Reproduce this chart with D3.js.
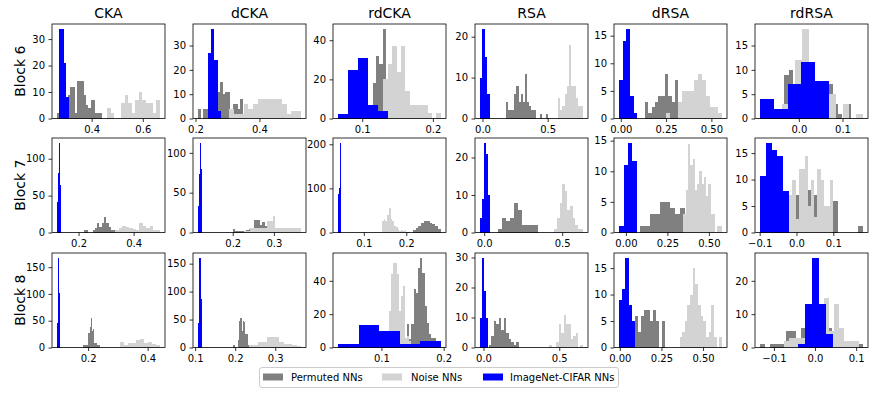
<!DOCTYPE html>
<html>
<head>
<meta charset="utf-8">
<script src="https://cdn.jsdelivr.net/npm/d3@7"></script>
<style>
  body { margin: 0; background: #fff; }
  text { font-family: "DejaVu Sans", sans-serif; }
</style>
</head>
<body>
<script>
const metrics = ["CKA", "dCKA", "rdCKA", "RSA", "dRSA", "rdRSA"];
const blocks = ["Block 6", "Block 7", "Block 8"];
const seriesNames = ["Permuted NNs", "Noise NNs", "ImageNet-CIFAR NNs"];

// each panel: [first bin edge, bin width, counts], row by row
const permuted = [
  [0.265, 0.0087, [2,3,2,4,8,9,12,12,2,14,14,14,9,5,4,7,7,2,2,2]],
  [0.2083, 0.00772, [4,0,4,4,6,10,12,10,11,15,10,11,11,4,6,6,4,8,2,2]],
  [0.115, 0.00467, [18,32,28,46,14,10,8,5,3,0,4]],
  [0.179, 0.0163, [4,2,2,2,6,8,4,6,4,11,4,3,2,2,0,0,1,0,0,1]],
  [0.134, 0.0183, [3,1,2,3,4,4,8,4,3,7,2,1]],
  [-0.0333, 0.0102, [9,10,6,5,8,9,6,5,5,6,7,3,1,0,3]],
  [0.218, 0.0083, [4,4,0,0,4,6,13,7,13,21,13,7,4,4]],
  [0.2, 0.00656, [4,2,2,2,0,3,4,6,16,16,10,13,8,8,8]],
  [0.2023, 0.0066, [2,0,5,10,15,22,25,25,22,20,15,8]],
  [0.0858, 0.0258, [1,4,3,4,8,6,2,2,2,2]],
  [0.0878, 0.030, [1,1,3,3,5,5,4,3,4]],
  [-0.0215, 0.01345, [3,7,7,8,8,7,5,4,4,6,0,0,0,0,1.2]],
  [0.1845, 0.00368, [5,5,5,5,28,28,38,55,30,34,9,9,5,5,5]],
  [0.1937, 0.00318, [5,5,0,0,14,47,53,30,47,45,25,25,5,3,3]],
  [0.141, 0.00355, [14,5,14,35,33,48,54,45,25,15,8,6,6,3]],
  [0.0333, 0.0167, [1,4,9,8,10,6,10,5,3,2,1,2]],
  [0.0916, 0.0179, [6,3,6,7,7,5,7,5,0,5]],
  [-0.1336, 0.0125, [1,0,1,1,1,5,5,3,6,6,8,8,6,6,4,2,2,1,0,1]]
];

const noise = [
  [0.4615, 0.01368, [4,2,0,0,6,9,6,2,7,10,7,6,6,2,7]],
  [0.3057, 0.01492, [4,2,2,6,4,6,8,8,8,8,8,6,2,3,3]],
  [0.1299, 0.00626, [20,28,37,24,37,14,7,7,7,7,3,0,3]],
  [0.577, 0.0175, [5,2,3,6,8,18,8,8,5,3,3]],
  [0.247, 0.0222, [1,0,0,3,5,5,5,7,8,7,4,2,2,1]],
  [-0.0394, 0.0155, [3,3,12,18.5,10,6,7,5,0,3,0,1]],
  [0.3342, 0.0124, [4,6,9,8,6,5,4,13,9,6,9,4,4]],
  [0.228, 0.006875, [2,2,6,6,6,6,6,6,14,14,21,6,6,6,6,6,6,6,6,6]],
  [0.1426, 0.00413, [27,30,27,40,56,30,27,15,12,8,4,6,4,5]],
  [0.45, 0.01659, [1,4,8,13,11,6,7,4,2,1,1]],
  [0.347, 0.0136, [3,7,14.5,11,12,7,8,10,8,9,6,8,3,3,0,1,1]],
  [-0.0197, 0.00852, [7,10,2.5,12,12,14.4,5,10,3,12,10,5,5,10]],
  [0.306, 0.0135, [11,5,8,9,14,16,9,10,6,4]],
  [0.2356, 0.0107, [5,5,9,10,18,18,18,10,7,7,5,3]],
  [0.1118, 0.0033, [22,44,51,51,44,22,31,37,6,7,4]],
  [0.433, 0.0159, [1,0,0,2,8,5,11,8,8,3,4,5,0,1]],
  [0.3586, 0.0159, [2,3,5,8,10,15,12,8,6,5,2,3,8,2,0,2]],
  [-0.076, 0.01216, [2,3,3,3,3,5,8,10,15,5,13,6,2,2,2]]
];

const imagenet = [
  [0.2725, 0.0096, [34,34,21,8]],
  [0.2383, 0.0104, [27,37,24,3]],
  [0.0659, 0.014, [2.5,25,31,7,4]],
  [-0.018, 0.018, [10,22,15,6]],
  [-0.009, 0.0201, [7,14,16.3,4,1]],
  [-0.0886, 0.0315, [4,2,7,11.6,7.7]],
  [0.1222, 0.0039, [41,81,122,65]],
  [0.116, 0.0026, [33,73,113,80]],
  [0.0395, 0.0021, [87,100,204]],
  [-0.0258, 0.0124, [4,9,24,21,10]],
  [-0.0408, 0.0265, [1,11,14.7,11.7]],
  [-0.0987, 0.0157, [10.6,17,15.6,14.4,7.9]],
  [0.0961, 0.0033, [45,168,101]],
  [0.1075, 0.0033, [43,161,86]],
  [0.0305, 0.033, [2,13.4,9.8,2,3.8]],
  [-0.0222, 0.0133, [10,30,19,10]],
  [-0.004, 0.0191, [9,11,17,8,5]],
  [-0.0416, 0.0172, [1,13,27,13,4]]
];

const xTicks = [
  ["0.4","0.6"], ["0.2","0.4"], ["0.1","0.2"], ["0.0","0.5"], ["0.00","0.25","0.50"], ["0.0","0.1"],
  ["0.2","0.4"], ["0.2","0.3"], ["0.1","0.2"], ["0.0","0.5"], ["0.00","0.25","0.50"], ["\u22120.1","0.0","0.1"],
  ["0.2","0.4"], ["0.1","0.2","0.3"], ["0.1","0.2"], ["0.0","0.5"], ["0.00","0.25","0.50"], ["\u22120.1","0.0","0.1"]
];
const yTicks = [
  ["0","10","20","30"], ["0","10","20","30"], ["0","20","40"], ["0","10","20"], ["0","5","10","15"], ["0","5","10","15"],
  ["0","50","100"], ["0","50","100"], ["0","100","200"], ["0","10","20"], ["0","5","10","15"], ["0","5","10","15"],
  ["0","50","100","150"], ["0","50","100","150"], ["0","20","40"], ["0","10","20","30"], ["0","5","10","15"], ["0","10","20"]
];

const colors = ["#808080", "#d3d3d3", "#0000ff"];

function main() {
  const width = 876, height = 393;
  const colLeft = [52, 193, 333, 475, 614, 755], axW = 113;
  const rowTop = [24, 138, 253], axH = 94.5;
  const num = s => +s.replace("\u2212", "-");

  const svg = d3.select("body").append("svg")
    .attr("width", width)
    .attr("height", height);

  blocks.forEach((block, r) => {
    metrics.forEach((metric, c) => {
      const i = r * 6 + c;
      const series = [permuted[i], noise[i], imagenet[i]];
      const lo = d3.min(series, s => s[0]);
      const hi = d3.max(series, s => s[0] + s[1] * s[2].length);
      const span = hi - lo;
      const ymax = d3.max(series, s => d3.max(s[2]));

      const x = d3.scaleLinear().domain([lo - 0.05 * span, hi + 0.05 * span]).range([0, axW]);
      const y = d3.scaleLinear().domain([0, ymax * 1.05]).range([axH, 0]);

      const g = svg.append("g").attr("transform", `translate(${colLeft[c]},${rowTop[r]})`);

      series.forEach((s, k) => {
        const bins = s[2].map((v, j) => ({x0: s[0] + j * s[1], x1: s[0] + (j + 1) * s[1], v}))
          .filter(b => b.v > 0);
        g.append("g")
          .attr("shape-rendering", "crispEdges")
          .selectAll("rect")
          .data(bins)
          .join("rect")
          .attr("x", b => x(b.x0))
          .attr("width", b => x(b.x1) - x(b.x0))
          .attr("y", b => y(b.v))
          .attr("height", b => axH - y(b.v))
          .attr("fill", colors[k]);
      });

      const xl = xTicks[i], yl = yTicks[i];
      const xa = g.append("g").attr("transform", `translate(0,${axH})`)
        .call(d3.axisBottom(x).tickValues(xl.map(num)).tickFormat((d, j) => xl[j])
          .tickSize(3.5).tickPadding(3.5));
      const ya = g.append("g")
        .call(d3.axisLeft(y).tickValues(yl.map(num)).tickFormat((d, j) => yl[j])
          .tickSize(3.5).tickPadding(3.5));
      [xa, ya].forEach(a => {
        a.select(".domain").remove();
        a.selectAll("line").attr("stroke", "#000").attr("stroke-width", 0.8);
        a.selectAll("text").attr("font-size", 10).attr("fill", "#000")
          .attr("font-family", "DejaVu Sans, sans-serif");
      });

      g.append("rect")
        .attr("width", axW).attr("height", axH)
        .attr("fill", "none").attr("stroke", "#000").attr("stroke-width", 0.8);

      if (r === 0) {
        g.append("text")
          .attr("x", axW / 2).attr("y", -6)
          .attr("text-anchor", "middle")
          .attr("font-size", 14)
          .text(metric);
      }
      if (c === 0) {
        svg.append("text")
          .attr("transform", `translate(25,${rowTop[r] + axH / 2}) rotate(-90)`)
          .attr("text-anchor", "middle")
          .attr("font-size", 14)
          .text(block);
      }
    });
  });

  // legend
  const lg = svg.append("g");
  lg.append("rect")
    .attr("x", 259.5).attr("y", 367.5).attr("width", 359).attr("height", 20)
    .attr("rx", 2.5).attr("fill", "#fff").attr("fill-opacity", 0.8)
    .attr("stroke", "#cccccc").attr("stroke-width", 1);
  const patchX = [263, 382, 483], textX = [291, 411, 510];
  seriesNames.forEach((name, k) => {
    lg.append("rect")
      .attr("x", patchX[k]).attr("y", 373.5).attr("width", 20).attr("height", 7)
      .attr("fill", colors[k]);
    lg.append("text")
      .attr("x", textX[k]).attr("y", 381)
      .attr("font-size", 10)
      .text(name);
  });
}

window.addEventListener("load", main);
</script>
</body>
</html>
